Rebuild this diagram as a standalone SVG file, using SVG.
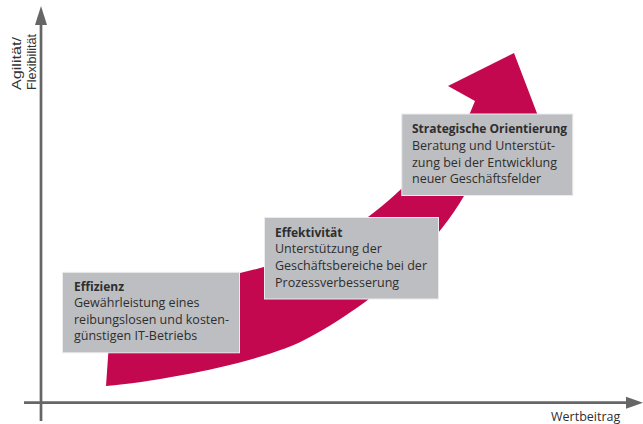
<svg xmlns="http://www.w3.org/2000/svg" width="643" height="424" viewBox="0 0 643 424">
<style>
.axis{stroke:#666;stroke-width:2.7;fill:none}
.head{fill:#666}
.box{fill:#BDBEC1;stroke:#ECECEC;stroke-width:1}
.t{font-family:"Open Sans","Noto Sans",sans-serif;font-size:12.5px;fill:#2e2e2e}
.b{font-weight:bold;font-size:12px}
.ax{font-family:"Liberation Sans",Arial,sans-serif;font-size:12.5px;fill:#333}
</style>
<rect width="643" height="424" fill="#fff"/>
<g id="arrow">
<path fill="#C4084F" d="M106,386 C170,380 270,360 310,337 C360,310 425,262 464,196 L500,150 L551,150 L514,53 L448,86 L475,101 L470,113 C440,150 405,190 368,217 C320,250 280,264 240,273 C180,285 140,292 112,300 Z"/>
</g>
<g id="connectors">
<line class="axis" x1="41" y1="22" x2="41" y2="421"/>
<polygon class="head" points="41,6 35,25 47,25"/>
<line class="axis" x1="24" y1="402.7" x2="628" y2="402.7"/>
<polygon class="head" points="643,402.7 626,396.7 626,408.7"/>
</g>
<g id="axis-y-label">
<text class="ax" transform="translate(20.5,90) rotate(-90)" textLength="53" lengthAdjust="spacingAndGlyphs">Agilität/</text>
<text class="ax" transform="translate(35.5,90) rotate(-90)" textLength="56" lengthAdjust="spacingAndGlyphs">Flexibilität</text>
</g>
<g id="axis-x-label">
<text class="t" x="551" y="421">Wertbeitrag</text>
</g>
<g id="node-effizienz">
<rect class="box" x="62.5" y="272.3" width="177" height="80.5"/>
<text class="t b" x="74" y="290.7">Effizienz</text>
<text class="t" x="74" y="307.2">Gewährleistung eines</text>
<text class="t" x="74" y="323.7">reibungslosen und kosten-</text>
<text class="t" x="74" y="340.2">günstigen IT-Betriebs</text>
</g>
<g id="node-effektivitaet">
<rect class="box" x="264.5" y="217.5" width="174" height="81.5"/>
<text class="t b" x="275" y="236.7">Effektivität</text>
<text class="t" x="275" y="253.3">Unterstützung der</text>
<text class="t" x="275" y="270">Geschäftsbereiche bei der</text>
<text class="t" x="275" y="286.6">Prozessverbesserung</text>
</g>
<g id="node-strategisch">
<rect class="box" x="401.8" y="114" width="171" height="81.5"/>
<text class="t b" x="412" y="133.3">Strategische Orientierung</text>
<text class="t" x="412" y="150">Beratung und Unterstüt-</text>
<text class="t" x="412" y="166.7">zung bei der Entwicklung</text>
<text class="t" x="412" y="183.3">neuer Geschäftsfelder</text>
</g>
</svg>
